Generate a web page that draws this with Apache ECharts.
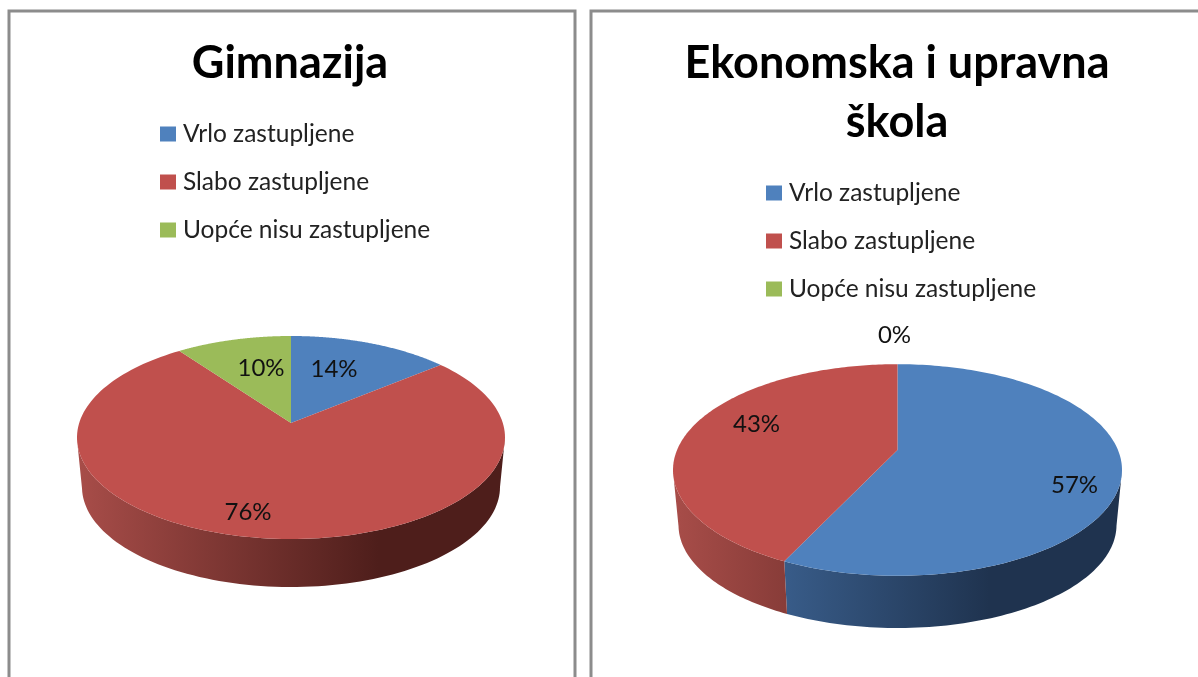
<!DOCTYPE html>
<html><head><meta charset="utf-8">
<style>html,body{margin:0;padding:0;background:#fff}#c{width:1198px;height:677px}</style>
<script src="https://cdn.jsdelivr.net/npm/echarts@6/dist/echarts.min.js"></script></head>
<body><div id="c"></div>
<script>
const categories = ['Vrlo zastupljene', 'Slabo zastupljene', 'Uopće nisu zastupljene'];
const gimnazijaValues = [14, 76, 10];
const ekonomskaValues = [57, 43, 0];
const chartTitles = ['Gimnazija', 'Ekonomska i upravna\nškola'];

const FONT = 'Lato, "Open Sans", sans-serif';
const topColors = ['#4F81BD', '#C0504D', '#9BBB59'];
const sideStops = [
  ['#4672A8', '#1F334F'],
  ['#A84D49', '#4E1E1B'],
  ['#86A24C', '#4A5C28']
];
// Drawing geometry of each pie (not data).
const pies = [
  { values: gimnazijaValues, cx: 291, cy: 437.5, rx: 214, ry: 101.5, apexY: 423,
    bx: 291, by: 487, brx: 209, bry: 100,
    labelOffsets: [[43, -54], [-43, 89], [-30, -55]] },
  { values: ekonomskaValues, cx: 897.5, cy: 470, rx: 224.5, ry: 105.8, apexY: 450,
    bx: 897.5, by: 525, brx: 219, bry: 103,
    labelOffsets: [[177, 35], [-141, -26], [-3, -115]] }
];

function rim(p, theta, ex, ey, erx, ery) {
  const a = (p.apexY - p.cy) / p.ry;
  const u = Math.sin(theta), v = -Math.cos(theta);
  const d = 1 + a * v;
  const X = u * Math.sqrt(1 - a * a) / d, Y = (v + a) / d;
  return { x: ex + erx * X, y: ey + ery * Y, Y };
}

function sliceSeries(pieIndex, catIndex) {
  const p = pies[pieIndex];
  const total = p.values.reduce((s, v) => s + v, 0);
  const before = p.values.slice(0, catIndex).reduce((s, v) => s + v, 0);
  const value = p.values[catIndex];
  return {
    type: 'custom',
    name: categories[catIndex],
    coordinateSystem: 'none',
    silent: true,
    animation: false,
    itemStyle: { color: topColors[catIndex] },
    data: [[value]],
    renderItem: function (params, api) {
      const val = api.value(0);
      const t0 = before / total * 2 * Math.PI;
      const t1 = t0 + val / total * 2 * Math.PI;
      const children = [];
      const off = p.labelOffsets[catIndex];
      if (val > 0) {
        const N = 160, pts = [];
        pts.push([p.cx, p.apexY]);
        for (let i = 0; i <= N; i++) {
          const q = rim(p, t0 + (t1 - t0) * i / N, p.cx, p.cy, p.rx, p.ry);
          pts.push([q.x, q.y]);
        }
        const topRim = [], botRim = [];
        for (let i = 0; i <= N; i++) {
          const th = t0 + (t1 - t0) * i / N;
          const q = rim(p, th, p.cx, p.cy, p.rx, p.ry);
          if (q.Y >= 0) {
            topRim.push([q.x, q.y]);
            const b = rim(p, th, p.bx, p.by, p.brx, p.bry);
            botRim.unshift([b.x, b.y]);
          }
        }
        if (topRim.length > 1) {
          const left = p.cx - p.rx, right = p.cx + p.rx * 0.41;
          const grad = new echarts.graphic.LinearGradient(left, 0, right, 0, [
            { offset: 0, color: sideStops[catIndex][0] },
            { offset: 1, color: sideStops[catIndex][1] }
          ], true);
          children.push({ type: 'polygon', z2: 1,
            shape: { points: topRim.concat(botRim) },
            style: { fill: grad, stroke: null } });
        }
        children.push({ type: 'polygon', z2: 2,
          shape: { points: pts },
          style: { fill: topColors[catIndex], stroke: null } });
      }
      children.push({ type: 'text', z2: 3,
        x: p.cx + off[0], y: p.apexY + off[1],
        style: { text: val + '%', font: '24px ' + FONT, fill: '#111',
                 align: 'center', verticalAlign: 'middle' } });
      return { type: 'group', children };
    }
  };
}

const series = [];
pies.forEach((p, pi) => categories.forEach((c, ci) => series.push(sliceSeries(pi, ci))));

const legendBase = {
  orient: 'vertical', icon: 'rect', itemWidth: 16, itemHeight: 15, itemGap: 22, selectedMode: false,
  padding: 0, data: categories,
  textStyle: { fontFamily: FONT, fontSize: 24.5, color: '#222', padding: [0, 0, 0, 2], lineHeight: 26 }
};

const chart = echarts.init(document.getElementById('c'), null, { renderer: 'canvas' });
chart.setOption({
  backgroundColor: '#fff',
  animation: false,
  title: [
    { text: chartTitles[0], left: 290, top: 34, textAlign: 'center', padding: 0,
      textStyle: { fontFamily: FONT, fontSize: 45, fontWeight: 'bold', color: '#000', lineHeight: 59 } },
    { text: chartTitles[1], left: 897, top: 34, textAlign: 'center', padding: 0,
      textStyle: { fontFamily: FONT, fontSize: 45, fontWeight: 'bold', color: '#000', lineHeight: 59 } }
  ],
  legend: [
    Object.assign({}, legendBase, { left: 160, top: 121 }),
    Object.assign({}, legendBase, { left: 766, top: 180 })
  ],
  graphic: [
    { type: 'rect', silent: true, shape: { x: 9, y: 11, width: 566, height: 700 },
      style: { fill: 'none', stroke: '#8C8C8C', lineWidth: 3 }, z: -1 },
    { type: 'rect', silent: true, shape: { x: 591, y: 11, width: 640, height: 700 },
      style: { fill: 'none', stroke: '#8C8C8C', lineWidth: 3 }, z: -1 }
  ],
  series
});
</script></body></html>
